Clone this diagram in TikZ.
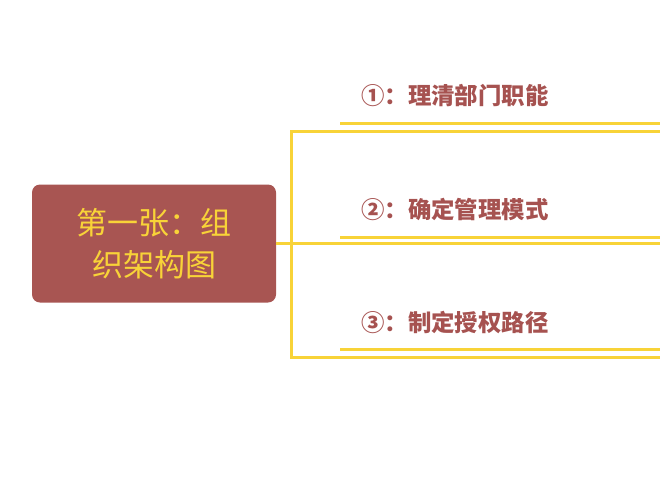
\documentclass[tikz,border=0pt]{standalone}
\usepackage{fontspec}
\newfontfamily\cjk{Noto Sans CJK SC}
\definecolor{boxred}{HTML}{A85552}
\definecolor{txtred}{HTML}{A65250}
\definecolor{lineyel}{HTML}{F8D338}
\tikzset{
  rootbox/.style={fill=boxred, rounded corners=8pt, text=lineyel, font=\cjk\fontsize{31}{42}\selectfont, align=center, minimum width=244pt, minimum height=118pt, inner sep=0pt},
  branchlabel/.style={anchor=west, text=txtred, font=\cjk\bfseries\fontsize{23.4}{26}\selectfont, inner sep=0pt},
  yline/.style={draw=lineyel, line width=3pt}
}
\begin{document}
\begin{tikzpicture}[x=1pt,y=-1pt]
\useasboundingbox (0,0) rectangle (660,483);
\node[rootbox] (root) at (154,243.5) {第一张：组\\织架构图};
\node[branchlabel] (l1) at (361,96) {①：理清部门职能};
\node[branchlabel] (l2) at (361,209) {②：确定管理模式};
\node[branchlabel] (l3) at (361,322) {③：制定授权路径};
% bracket
\coordinate (j1) at (291,131);
\coordinate (j2) at (291,243);
\coordinate (j3) at (291,357);
\coordinate (e1) at (660,131);
\coordinate (e2) at (660,243);
\coordinate (e3) at (660,357);
% underlines
\coordinate (u1s) at (340,123); \coordinate (u1e) at (660,123);
\coordinate (u2s) at (340,237); \coordinate (u2e) at (660,237);
\coordinate (u3s) at (340,349); \coordinate (u3e) at (660,349);
\draw[yline] (root.east |- j2) -- (e2);
\draw[yline] (e1) -- (j1) -- (j3) -- (e3);
\draw[yline] (u1s) -- (u1e);
\draw[yline] (u2s) -- (u2e);
\draw[yline] (u3s) -- (u3e);
\end{tikzpicture}
\end{document}
